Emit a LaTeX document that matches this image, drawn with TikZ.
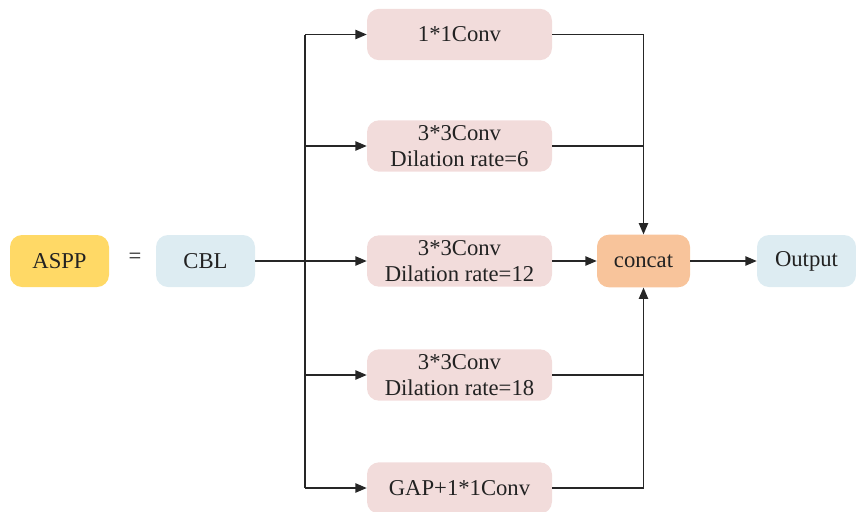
\documentclass[tikz,border=0pt]{standalone}
\usepackage{fontspec}
\setmainfont{Liberation Serif}
\usetikzlibrary{arrows.meta}
\definecolor{asppyellow}{HTML}{FFD966}
\definecolor{paleblue}{HTML}{DDECF2}
\definecolor{palepink}{HTML}{F2DCDB}
\definecolor{peach}{HTML}{F8C49B}
\definecolor{inkgray}{HTML}{222222}
\begin{document}
\begin{tikzpicture}[x=0.75pt,y=-0.75pt,
  box/.style={rounded corners=9pt, inner sep=0pt, align=center,
    font=\fontsize{17}{20}\selectfont, text=inkgray},
  smallbox/.style={box, minimum width=74.25pt, minimum height=39pt},
  convbox/.style={box, fill=palepink, minimum width=138.75pt, minimum height=38.5pt},
  link/.style={line width=1pt, draw=black!85},
  arr/.style={link, -{Triangle[length=8.5pt,width=7pt]}}]
\useasboundingbox (0,0) rectangle (856,511);

% input side
\node[smallbox, fill=asppyellow] (aspp) at (59.5,261) {ASPP};
\node[box] (eq) at (135,258) {=};
\node[smallbox, fill=paleblue] (cbl) at (205.5,261) {CBL};

% parallel branches
\node[convbox] (b1) at (459.5,34.5) {1*1Conv};
\node[convbox] (b2) at (459.5,146) {3*3Conv\\Dilation rate=6};
\node[convbox] (b3) at (459.5,261) {3*3Conv\\Dilation rate=12};
\node[convbox] (b4) at (459.5,375) {3*3Conv\\Dilation rate=18};
\node[convbox] (b5) at (459.5,488) {GAP+1*1Conv};

% fusion and output
\node[box, fill=peach, minimum width=69.75pt, minimum height=39.5pt] (concat) at (643.5,261) {concat};
\node[smallbox, fill=paleblue] (out) at (806.5,261) {Output};

% fan-out from CBL
\coordinate (fork) at (305,261);
\draw[link] (cbl.east) -- (fork);
\draw[link] (fork |- b1) -- (fork |- b5);
\foreach \n in {b1,b2,b3,b4,b5}
  \draw[arr] (fork |- \n) -- (\n.west);

% fan-in to concat
\draw[arr] (b1.east) -| (concat.north);
\draw[link] (b2.east) -- (concat.north |- b2);
\draw[arr] (b3.east) -- (concat.west);
\draw[link] (b4.east) -- (concat.south |- b4);
\draw[arr] (b5.east) -| (concat.south);
\draw[arr] (concat.east) -- (out.west);
\end{tikzpicture}
\end{document}
